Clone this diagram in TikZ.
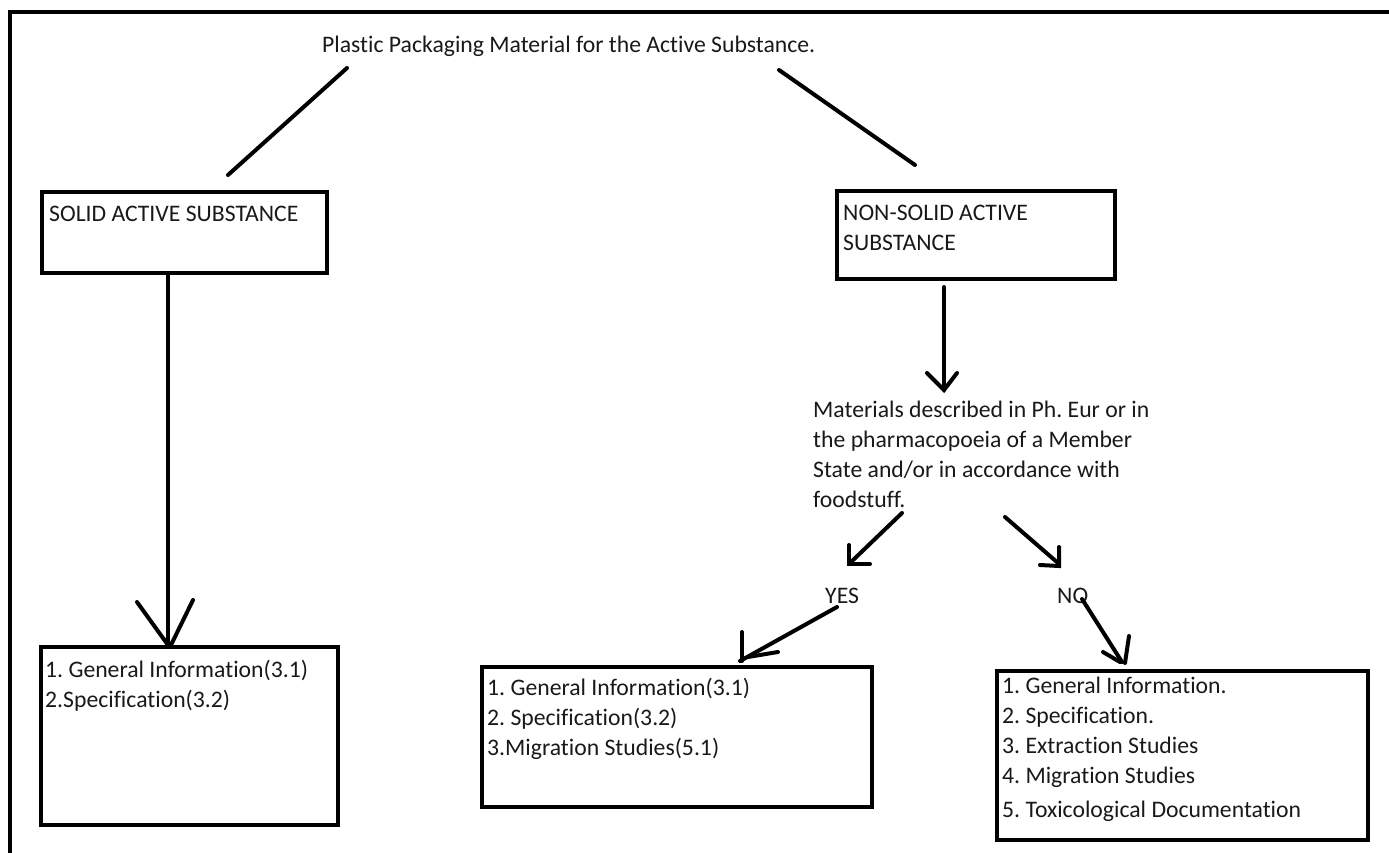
\documentclass[tikz,border=0pt]{standalone}
\usepackage{fontspec}
\setmainfont{Carlito}[Ligatures=NoCommon]
\frenchspacing
\begin{document}
\begin{tikzpicture}[x=1pt,y=-1pt,
  txt/.style={inner sep=0pt, anchor=base west, font=\frenchspacing\fontsize{23.7}{30}\selectfont, align=left, text=black!90},
  box/.style={draw, line width=4pt, inner sep=0pt, anchor=north west},
  stroke/.style={line width=4pt, line cap=round},
  frame/.style={line width=4pt}]
\useasboundingbox (0,0) rectangle (1389,853);
% frame (top and left only)
\coordinate (fbl) at (10,853);
\coordinate (ftl) at (10,12.5);
\coordinate (ftr) at (1389,12.5);
\draw[frame] (fbl) -- (ftl) -- (ftr);

% title
\node[txt] (title) at (322,53) {Plastic Packaging Material for the Active Substance.};

% boxes (multi-line texts are placed by the baseline of their last line)
\node[box, minimum width=285pt, minimum height=81pt] (solid) at (40,190) {};
\node[txt] (solidtxt) at (49,222) {SOLID ACTIVE SUBSTANCE};

\node[box, minimum width=278pt, minimum height=88pt] (nonsolid) at (835,189) {};
\node[txt] (nonsolidtxt) at (843,250) {NON-SOLID ACTIVE\\SUBSTANCE};

\node[txt] (materials) at (813,507) {Materials described in Ph. Eur or in\\the pharmacopoeia of a Member\\State and/or in accordance with\\foodstuff.};

\node[txt] (yes) at (825,603) {YES};
\node[txt] (no) at (1057,603) {NO};

\node[box, minimum width=297pt, minimum height=178pt] (solidlist) at (39,645) {};
\node[txt] (solidlisttxt) at (45,707) {1. General Information(3.1)\\2.Specification(3.2)};

\node[box, minimum width=390pt, minimum height=140pt] (yeslist) at (480,665) {};
\node[txt] (yeslisttxt) at (487,755) {1. General Information(3.1)\\2. Specification(3.2)\\3.Migration Studies(5.1)};

\node[box, minimum width=371pt, minimum height=169pt] (nolist) at (995,669) {};
\node[txt] (nolisttxt) at (1002,817) {1. General Information.\\2. Specification.\\3. Extraction Studies\\4. Migration Studies\\[4pt]5. Toxicological Documentation};

% connectors
\coordinate (a1) at (347,68);  \coordinate (a2) at (228,175);
\draw[stroke] (a1) -- (a2);
\coordinate (b1) at (779,70);  \coordinate (b2) at (915,165);
\draw[stroke] (b1) -- (b2);

% solid -> list
\coordinate (c1) at (168,273); \coordinate (c2) at (168,645);
\draw[stroke] (c1) -- (c2);
\coordinate (c3) at (137,602); \coordinate (c4) at (193,600);
\draw[stroke] (c3) -- (c2);
\draw[stroke] (c4) -- (171,645);

% nonsolid -> materials
\coordinate (d1) at (944,287); \coordinate (d2) at (944,390);
\draw[stroke] (d1) -- (d2);
\coordinate (d3) at (927,373); \coordinate (d4) at (957,373);
\draw[stroke] (d3) -- (d2) -- (d4);

% materials -> yes
\coordinate (e1) at (902,513); \coordinate (e2) at (850,563);
\draw[stroke] (e1) -- (e2);
\coordinate (e3) at (849,545); \coordinate (e4) at (870,564);
\draw[stroke] (e3) -- (849,564) -- (e4);

% materials -> no
\coordinate (f1) at (1005,517); \coordinate (f2) at (1058,563);
\draw[stroke] (f1) -- (f2);
\coordinate (f3) at (1059,547); \coordinate (f4) at (1040,565);
\draw[stroke] (f3) -- (1059,566) -- (f4);

% yes -> yeslist
\coordinate (g1) at (837,607); \coordinate (g2) at (740,661);
\draw[stroke] (g1) -- (g2);
\coordinate (g3) at (742,632); \coordinate (g4) at (778,652);
\draw[stroke] (g3) -- (742,661);
\draw[stroke] (g4) -- (748,657);

% no -> nolist
\coordinate (h1) at (1082,599); \coordinate (h2) at (1122,662);
\draw[stroke] (h1) -- (h2);
\coordinate (h3) at (1129,636); \coordinate (h4) at (1103,652);
\draw[stroke] (h3) -- (1125,663);
\draw[stroke] (h4) -- (1120,662);
\end{tikzpicture}
\end{document}
